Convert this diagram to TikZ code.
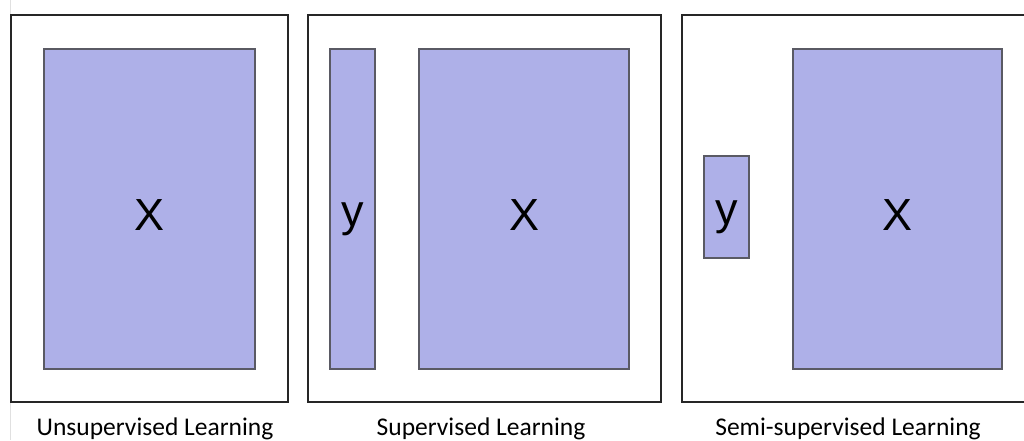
\documentclass[tikz,border=0pt]{standalone}
\usepackage{fontspec}
\setmainfont{Carlito}
\newfontfamily\letterfont{Liberation Sans}
\definecolor{boxblue}{RGB}{174,176,232}
\definecolor{boxedge}{RGB}{90,90,100}
\begin{document}
\begin{tikzpicture}[x=1pt,y=-1pt,
  frame/.style={draw=black!85,line width=2.4pt,minimum width=#1,minimum height=387pt,inner sep=0pt,outer sep=0pt},
  datablock/.style={draw=boxedge,line width=1.2pt,fill=boxblue,inner sep=0pt,outer sep=0pt,font=\letterfont\fontsize{45}{54}\selectfont},
  bigX/.style={datablock,minimum width=#1,minimum height=320pt,text height=42pt,text depth=0pt},
  ybar/.style={datablock,minimum width=45pt,minimum height=#1,text height=35pt,text depth=0pt},
  caption/.style={anchor=base,font=\fontsize{25.5}{30}\selectfont,inner sep=0pt}]
\clip (0,0) rectangle (1024,440);
\fill[white] (0,0) rectangle (1024,440);
\draw[black!12,line width=0.8pt] (10,0) -- (10,440);
% panel 1
\node[frame=277pt] (f1) at (149.5,208.5) {};
\node[bigX=211pt] (x1) at (149.5,209) {X};
\node[caption] (c1) at (155,435) {Unsupervised Learning};
% panel 2
\node[frame=353pt] (f2) at (484.5,208.5) {};
\node[ybar=320pt] (y2) at (352.5,209) {y};
\node[bigX=210pt] (x2) at (524,209) {X};
\node[caption] (c2) at (481,435) {Supervised Learning};
% panel 3 (right side cut off)
\node[frame=400pt] (f3) at (882,208.5) {};
\node[ybar=102pt] (y3) at (726.5,207) {y};
\node[bigX=209pt] (x3) at (897.5,209) {X};
\node[caption] (c3) at (848,435) {Semi-supervised Learning};
\end{tikzpicture}
\end{document}
